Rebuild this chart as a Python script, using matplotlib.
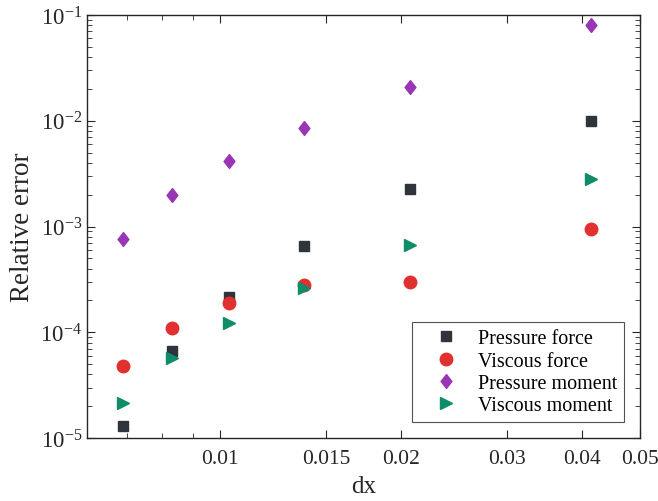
import matplotlib.pyplot as plt
from matplotlib.ticker import FixedLocator, FixedFormatter, LogLocator, NullFormatter

plt.rcParams['font.family'] = ['Liberation Serif', 'DejaVu Serif']
plt.rcParams['mathtext.fontset'] = 'custom'
plt.rcParams['mathtext.rm'] = 'Liberation Serif'
plt.rcParams['mathtext.it'] = 'Liberation Serif:italic'

# grid spacing (dx) and relative errors
dx = [0.0069, 0.0083, 0.01035, 0.0138, 0.0207, 0.0414]
pressure_force = [1.29e-5, 6.7e-5, 2.17e-4, 6.6e-4, 2.25e-3, 9.9e-3]
viscous_force = [4.83e-5, 1.10e-4, 1.88e-4, 2.80e-4, 2.97e-4, 9.4e-4]
pressure_moment = [7.6e-4, 1.97e-3, 4.13e-3, 8.6e-3, 2.08e-2, 8.0e-2]
viscous_moment = [2.14e-5, 5.67e-5, 1.22e-4, 2.64e-4, 6.73e-4, 2.83e-3]

xticks = [0.01, 0.015, 0.02, 0.03, 0.04, 0.05]
xticklabels = ['0.01', '0.015', '0.02', '0.03', '0.04', '0.05']

# MATLAB-style diamond, a little taller than wide
diamond = [(0, 1), (0.78, 0), (0, -1), (-0.78, 0), (0, 1)]

fig = plt.figure(figsize=(6.58, 5.02), dpi=100)
ax = fig.add_axes([0.1322, 0.1255, 0.8404, 0.8426])

ax.plot(dx, pressure_force, 's', color='#2f333b', markersize=6.5, label='Pressure force', linestyle='none')
ax.plot(dx, viscous_force, 'o', color='#e0302f', markersize=9, label='Viscous force', linestyle='none')
ax.plot(dx, pressure_moment, marker=diamond, color='#9a35b5', markersize=10, label='Pressure moment', linestyle='none')
ax.plot(dx, viscous_moment, '>', color='#0e8d68', markersize=9, label='Viscous moment', linestyle='none')

ax.set_xscale('log')
ax.set_yscale('log')
ax.set_xlim(0.006, 0.05)
ax.set_ylim(1e-5, 1e-1)

ax.xaxis.set_major_locator(FixedLocator(xticks))
ax.xaxis.set_major_formatter(FixedFormatter(xticklabels))
ax.xaxis.set_minor_locator(FixedLocator([0.007, 0.008, 0.009]))
ax.xaxis.set_minor_formatter(NullFormatter())

ax.yaxis.set_major_locator(LogLocator(base=10, numticks=10))
ax.yaxis.set_minor_locator(LogLocator(base=10, subs=range(2, 10), numticks=10))
ax.yaxis.set_minor_formatter(NullFormatter())

edge = '#262626'
for s in ax.spines.values():
    s.set_color(edge)
    s.set_linewidth(1.0)
ax.tick_params(which='both', direction='in', top=True, right=True, colors=edge)
ax.tick_params(which='major', length=6)
ax.tick_params(which='minor', length=3.5)
ax.tick_params(axis='x', pad=8, labelsize=15.5)
ax.tick_params(axis='y', labelsize=16.5)

ax.set_xlabel('dx', fontsize=18, color=edge, labelpad=5)
ax.set_ylabel('Relative error', fontsize=19.5, color=edge, labelpad=4)

leg = ax.legend(loc='lower right', fontsize=14.5, frameon=True, fancybox=False,
                edgecolor=edge, borderaxespad=0.8, handlelength=2.7, handletextpad=0.2,
                labelspacing=0.15, borderpad=0.35)
leg.get_frame().set_linewidth(0.8)

fig.savefig('out.png', dpi=100)
